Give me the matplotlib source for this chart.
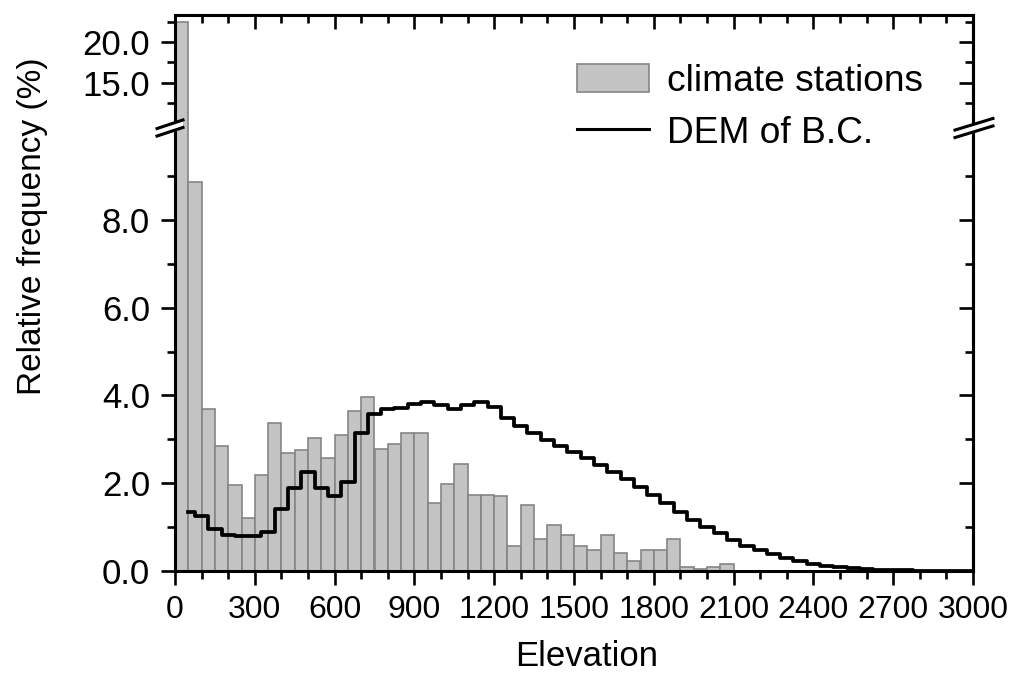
import matplotlib
matplotlib.use('Agg')
import matplotlib.pyplot as plt
from matplotlib.lines import Line2D
from matplotlib.patches import Patch, Polygon

plt.rcParams['font.family'] = ['Liberation Sans', 'DejaVu Sans']

# ---------------- data ----------------
bin_width = 50
station_bin_starts = [0, 50, 100, 150, 200, 250, 300, 350, 400, 450,
                      500, 550, 600, 650, 700, 750, 800, 850, 900, 950,
                      1000, 1050, 1100, 1150, 1200, 1250, 1300, 1350, 1400, 1450,
                      1500, 1550, 1600, 1650, 1700, 1750, 1800, 1850, 1900, 1950,
                      2000, 2050]
station_freq = [22.5, 8.87, 3.69, 2.85, 1.96, 1.20, 2.18, 3.38, 2.68, 2.75,
                3.04, 2.58, 3.09, 3.64, 3.96, 2.77, 2.89, 3.14, 3.14, 1.56,
                1.98, 2.43, 1.74, 1.74, 1.71, 0.58, 1.50, 0.74, 1.05, 0.83,
                0.58, 0.48, 0.83, 0.42, 0.22, 0.48, 0.48, 0.74, 0.09, 0.04,
                0.09, 0.15]

dem_elev = [50, 100, 150, 200, 250, 300, 350, 400, 450, 500,
            550, 600, 650, 700, 750, 800, 850, 900, 950, 1000,
            1050, 1100, 1150, 1200, 1250, 1300, 1350, 1400, 1450, 1500,
            1550, 1600, 1650, 1700, 1750, 1800, 1850, 1900, 1950, 2000,
            2050, 2100, 2150, 2200, 2250, 2300, 2350, 2400, 2450, 2500,
            2550, 2600, 2650, 2700, 2750, 2800, 2850, 2900, 2950, 3000]
dem_freq = [1.35, 1.26, 0.95, 0.82, 0.79, 0.79, 0.88, 1.41, 1.88, 2.26,
            1.90, 1.71, 2.02, 3.14, 3.57, 3.68, 3.72, 3.80, 3.85, 3.77,
            3.68, 3.78, 3.84, 3.73, 3.49, 3.30, 3.14, 2.98, 2.85, 2.72,
            2.57, 2.41, 2.26, 2.09, 1.92, 1.73, 1.54, 1.35, 1.16, 1.01,
            0.86, 0.71, 0.57, 0.47, 0.38, 0.30, 0.23, 0.17, 0.12, 0.08,
            0.06, 0.04, 0.03, 0.02, 0.015, 0.01, 0.008, 0.005, 0.003, 0.002]

x_major = [0, 300, 600, 900, 1200, 1500, 1800, 2100, 2400, 2700, 3000]
x_minor = [100, 200, 400, 500, 700, 800, 1000, 1100, 1300, 1400, 1600, 1700,
           1900, 2000, 2200, 2300, 2500, 2600, 2800, 2900]
y_bot_major = [0, 2, 4, 6, 8]
y_bot_labels = ['0.0', '2.0', '4.0', '6.0', '8.0']
y_bot_minor = [1, 3, 5, 7, 9]
y_top_major = [15, 20]
y_top_labels = ['15.0', '20.0']
y_top_minor = [12.5, 17.5, 22.5]

# ---------------- layout ----------------
W, H = 1011, 673
fig = plt.figure(figsize=(W / 100, H / 100), dpi=100)


def fx(px):
    return px / W


def fy(py):
    return 1 - py / H


L, R = 175, 973
TOP, BRK, BOT = 15, 128, 571
ax_top = fig.add_axes([fx(L), fy(BRK), fx(R) - fx(L), fy(TOP) - fy(BRK)])
ax_bot = fig.add_axes([fx(L), fy(BOT), fx(R) - fx(L), fy(BRK) - fy(BOT)])

bar_fc = '#c4c4c4'
bar_ec = '#858585'
spine_lw = 2.2
tick_w = 1.9
maj_len, min_len = 10, 5.5

for ax in (ax_top, ax_bot):
    ax.bar(station_bin_starts, station_freq, width=bin_width, align='edge',
           color=bar_fc, edgecolor=bar_ec, linewidth=1.2, zorder=2)
    ax.set_xlim(0, 3000)
    for s in ax.spines.values():
        s.set_linewidth(spine_lw)

ax_bot.step(dem_elev, dem_freq, where='mid', color='black', lw=2.7, zorder=3)

ax_bot.set_ylim(0, (BOT - BRK) / 43.9)
ax_top.set_ylim(10 - (BRK - 123.4) / 8.15, 10 + (123.4 - TOP) / 8.15)

ax_top.spines['bottom'].set_visible(False)
ax_bot.spines['top'].set_visible(False)

# x ticks
for ax in (ax_top, ax_bot):
    ax.set_xticks(x_major)
    ax.set_xticks(x_minor, minor=True)
ax_bot.tick_params(axis='x', which='both', direction='out', bottom=True, top=False,
                   width=tick_w, labelsize=23, pad=7)
ax_bot.tick_params(axis='x', which='major', length=maj_len)
ax_bot.tick_params(axis='x', which='minor', length=min_len)
ax_top.tick_params(axis='x', which='both', direction='in', bottom=False, top=True,
                   labelbottom=False, labeltop=False, width=tick_w)
ax_top.tick_params(axis='x', which='major', length=maj_len)
ax_top.tick_params(axis='x', which='minor', length=min_len)

# y ticks
ax_bot.set_yticks(y_bot_major)
ax_bot.set_yticklabels(y_bot_labels)
ax_bot.set_yticks(y_bot_minor, minor=True)
ax_top.set_yticks(y_top_major)
ax_top.set_yticklabels(y_top_labels)
ax_top.set_yticks(y_top_minor, minor=True)

for ax, maj, mnr in ((ax_bot, y_bot_major, y_bot_minor), (ax_top, y_top_major, y_top_minor)):
    ax.tick_params(axis='y', which='both', direction='out', left=True, right=False,
                   width=tick_w, labelsize=25, pad=8)
    ax.tick_params(axis='y', which='major', length=maj_len)
    ax.tick_params(axis='y', which='minor', length=min_len)
    sec = ax.secondary_yaxis('right')
    sec.set_yticks(maj)
    sec.set_yticks(mnr, minor=True)
    sec.tick_params(axis='y', which='both', direction='in', labelright=False, width=tick_w)
    sec.tick_params(axis='y', which='major', length=maj_len)
    sec.tick_params(axis='y', which='minor', length=min_len)
    sec.spines['right'].set_linewidth(spine_lw)

# axis labels
fig.text(fx(33), fy(226), 'Relative frequency (%)', rotation=90,
         ha='center', va='center', fontsize=24)
fig.text(fx(587), fy(666), 'Elevation', ha='center', va='baseline', fontsize=25)

# legend
handles = [Patch(facecolor=bar_fc, edgecolor=bar_ec, linewidth=1.2),
           Line2D([], [], color='black', lw=2.2)]
fig.legend(handles, ['climate stations', 'DEM of B.C.'], loc='upper left',
           bbox_to_anchor=(fx(577), fy(64)), frameon=False, fontsize=26.7,
           handlelength=1.95, handleheight=0.75, handletextpad=0.48,
           labelspacing=0.45, borderaxespad=0, borderpad=0)

# break marks
def break_mark(cx, hw, hr, gap):
    y1 = BRK - gap / 2
    y2 = BRK + gap / 2
    pts = [(cx - hw, y1 + hr), (cx + hw, y1 - hr), (cx + hw, y2 - hr), (cx - hw, y2 + hr)]
    fig.add_artist(Polygon([(fx(a), fy(b)) for a, b in pts], closed=True,
                           facecolor='white', edgecolor='none',
                           transform=fig.transFigure, zorder=5))
    for yy in (y1, y2):
        fig.add_artist(Line2D([fx(cx - hw), fx(cx + hw)], [fy(yy + hr), fy(yy - hr)],
                              color='black', lw=2.2, transform=fig.transFigure,
                              zorder=6))


break_mark(L - 5, 13, 4.3, 7.5)
break_mark(R + 1, 19, 5.8, 7.5)

fig.savefig('out.png', dpi=100)
